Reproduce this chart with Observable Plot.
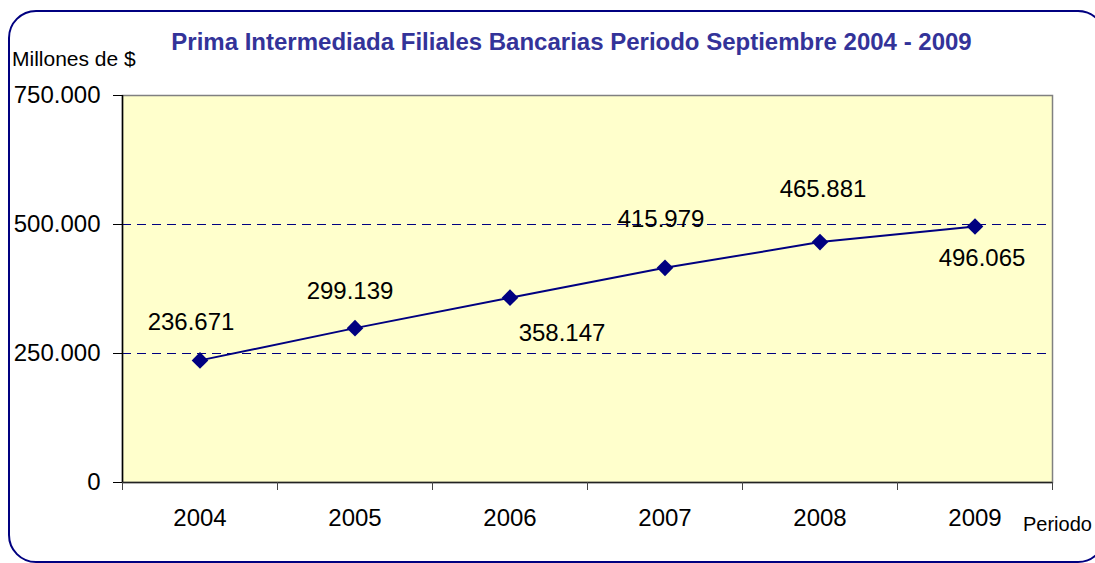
<!DOCTYPE html>
<html>
<head>
<meta charset="utf-8">
<script src="https://cdn.jsdelivr.net/npm/d3@7"></script>
<script src="https://cdn.jsdelivr.net/npm/@observablehq/plot@0.6"></script>
<style>
  html, body { margin: 0; padding: 0; background: #fff; }
  #wrap { position: relative; width: 1095px; height: 563px; overflow: hidden; font-family: "Liberation Sans", Arial, sans-serif; }
  #border { position: absolute; left: 8px; top: 10px; width: 1094px; height: 549px; border: 2px solid #000080; border-radius: 28px; box-sizing: content-box; }
  #chart { position: absolute; left: 0; top: 0; }
  .txt { position: absolute; white-space: nowrap; line-height: 1; }
  #title { left: 0; width: 1143px; text-align: center; top: 30px; font-size: 24px; font-weight: bold; color: #333399; }
  #ylab { left: 12px; top: 48px; font-size: 21px; color: #000; }
  #xlab { left: 1023px; top: 514px; font-size: 20px; color: #000; }
</style>
</head>
<body>
<div id="wrap">
  <div id="border"></div>
  <div id="chart"></div>
  <div class="txt" id="title">Prima Intermediada Filiales Bancarias Periodo Septiembre 2004 - 2009</div>
  <div class="txt" id="ylab">Millones de $</div>
  <div class="txt" id="xlab">Periodo</div>
</div>
<script>
const years = [2004, 2005, 2006, 2007, 2008, 2009];
const values = [236671, 299139, 358147, 415979, 465881, 496065];
const yTicks = [0, 250000, 500000, 750000];
const gridValues = [250000, 500000];

// label placement (layout, not data)
const labelOffsets = [[-9, -38], [-5, -37], [52, 36], [-4, -49], [3, -53], [7, 32]];

const data = years.map((y, i) => ({year: y, value: values[i]}));
const fmt = d => d3.format(",")(d).replace(/,/g, ".");
const boundaries = d3.range(years[0] - 0.5, years[years.length - 1] + 1, 1);

const font = '"Liberation Sans", Arial, sans-serif';

const labelMarks = data.map((d, i) => Plot.text([d], {
  x: "year", y: "value", text: d => fmt(d.value),
  dx: labelOffsets[i][0], dy: labelOffsets[i][1],
  fontSize: 24, fill: "#000"
}));

const chart = Plot.plot({
  width: 1095,
  height: 563,
  marginLeft: 122,
  marginRight: 43,
  marginTop: 95,
  marginBottom: 81,
  style: {fontFamily: font, background: "transparent", overflow: "visible"},
  x: {domain: [years[0] - 0.5, years[years.length - 1] + 0.5]},
  y: {domain: [0, 750000]},
  marks: [
    Plot.frame({fill: "#FFFFCC", stroke: "#808080", strokeWidth: 1.5}),
    Plot.ruleY(gridValues, {stroke: "#000080", strokeDasharray: "9,6", strokeWidth: 1}),
    Plot.ruleX([years[0] - 0.5], {stroke: "#000", strokeWidth: 1.5}),
    Plot.ruleY([0], {stroke: "#222", strokeWidth: 1.5}),
    Plot.axisY({ticks: yTicks, tickFormat: fmt, tickSize: 9, tickPadding: 13, fontSize: 24, color: "#000", label: null}),
    Plot.axisX({ticks: boundaries, tickFormat: () => "", tickSize: 8, color: "#444", label: null}),
    Plot.axisX({ticks: years, tickFormat: d => String(d), tickSize: 0, tickPadding: 26, fontSize: 24, color: "#000", label: null}),
    Plot.line(data, {x: "year", y: "value", stroke: "#000080", strokeWidth: 2}),
    Plot.dot(data, {x: "year", y: "value", symbol: "diamond2", r: 7.5, fill: "#000080", stroke: "none"}),
    ...labelMarks
  ]
});
document.getElementById("chart").appendChild(chart);
</script>
</body>
</html>
